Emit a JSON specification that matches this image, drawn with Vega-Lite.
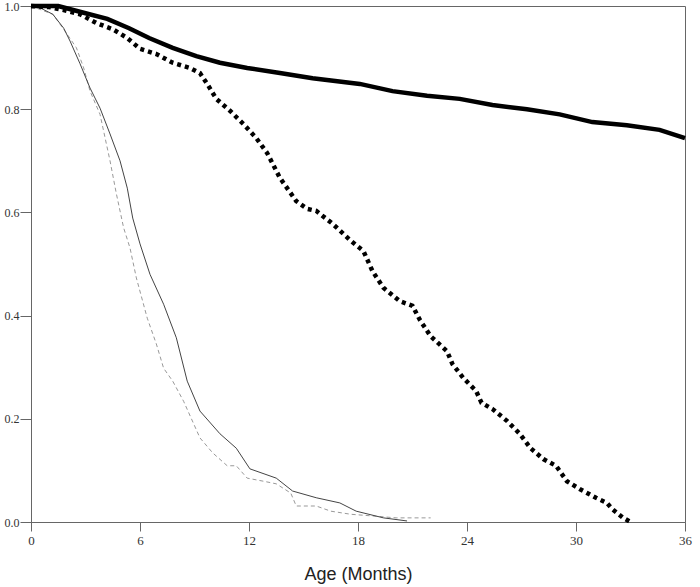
{
  "$schema": "https://vega.github.io/schema/vega-lite/v6.json",
  "width": 654,
  "height": 516,
  "autosize": "none",
  "padding": {"top": 6, "left": 31, "right": 15, "bottom": 65},
  "background": "white",
  "config": {
    "view": {"stroke": "#666", "strokeWidth": 1},
    "axis": {
      "grid": false,
      "domainColor": "#666",
      "tickColor": "#666",
      "labelFont": "Liberation Serif",
      "labelFontSize": 13,
      "labelColor": "#333",
      "labelFlush": false,
      "labelOverlap": false
    }
  },
  "data": {
    "values": [
      {"g": "C", "t": 0, "s": 1.0},
      {"g": "C", "t": 0.3, "s": 1.0},
      {"g": "C", "t": 1.2, "s": 0.984},
      {"g": "C", "t": 1.8, "s": 0.957},
      {"g": "C", "t": 2.15, "s": 0.932},
      {"g": "C", "t": 2.7, "s": 0.888},
      {"g": "C", "t": 3.25, "s": 0.841},
      {"g": "C", "t": 3.8, "s": 0.802},
      {"g": "C", "t": 4.35, "s": 0.752},
      {"g": "C", "t": 4.9, "s": 0.7},
      {"g": "C", "t": 5.3, "s": 0.647},
      {"g": "C", "t": 5.6, "s": 0.589},
      {"g": "C", "t": 6.0, "s": 0.539},
      {"g": "C", "t": 6.55, "s": 0.48},
      {"g": "C", "t": 7.3, "s": 0.422},
      {"g": "C", "t": 8.0, "s": 0.357},
      {"g": "C", "t": 8.6, "s": 0.273},
      {"g": "C", "t": 9.3, "s": 0.215},
      {"g": "C", "t": 10.4, "s": 0.171},
      {"g": "C", "t": 11.3, "s": 0.143},
      {"g": "C", "t": 12.05, "s": 0.103},
      {"g": "C", "t": 13.5, "s": 0.085},
      {"g": "C", "t": 14.4, "s": 0.06},
      {"g": "C", "t": 15.7, "s": 0.047},
      {"g": "C", "t": 17.0, "s": 0.037},
      {"g": "C", "t": 17.9, "s": 0.021},
      {"g": "C", "t": 19.4, "s": 0.008},
      {"g": "C", "t": 20.7, "s": 0.002},
      {"g": "D", "t": 0, "s": 1.0},
      {"g": "D", "t": 1.2, "s": 0.984},
      {"g": "D", "t": 1.8, "s": 0.955},
      {"g": "D", "t": 2.5, "s": 0.919},
      {"g": "D", "t": 2.9, "s": 0.88},
      {"g": "D", "t": 3.25, "s": 0.835},
      {"g": "D", "t": 3.8, "s": 0.79},
      {"g": "D", "t": 4.35, "s": 0.7},
      {"g": "D", "t": 4.7, "s": 0.636},
      {"g": "D", "t": 5.1, "s": 0.57},
      {"g": "D", "t": 5.45, "s": 0.531},
      {"g": "D", "t": 5.8, "s": 0.473},
      {"g": "D", "t": 6.4, "s": 0.395},
      {"g": "D", "t": 6.9, "s": 0.345},
      {"g": "D", "t": 7.3, "s": 0.298},
      {"g": "D", "t": 7.8, "s": 0.273},
      {"g": "D", "t": 8.4, "s": 0.234},
      {"g": "D", "t": 9.3, "s": 0.163},
      {"g": "D", "t": 10.0, "s": 0.134},
      {"g": "D", "t": 10.8, "s": 0.109},
      {"g": "D", "t": 11.3, "s": 0.109},
      {"g": "D", "t": 11.9, "s": 0.085},
      {"g": "D", "t": 12.8, "s": 0.079},
      {"g": "D", "t": 13.5, "s": 0.074},
      {"g": "D", "t": 14.3, "s": 0.056},
      {"g": "D", "t": 14.6, "s": 0.031},
      {"g": "D", "t": 15.7, "s": 0.031},
      {"g": "D", "t": 16.5, "s": 0.021},
      {"g": "D", "t": 17.6, "s": 0.015},
      {"g": "D", "t": 18.7, "s": 0.012},
      {"g": "D", "t": 20.1, "s": 0.008},
      {"g": "D", "t": 22.0, "s": 0.008},
      {"g": "B", "t": 0, "s": 1.0},
      {"g": "B", "t": 1.0, "s": 0.998},
      {"g": "B", "t": 1.8, "s": 0.992},
      {"g": "B", "t": 2.7, "s": 0.984},
      {"g": "B", "t": 3.6, "s": 0.967},
      {"g": "B", "t": 4.5, "s": 0.955},
      {"g": "B", "t": 5.3, "s": 0.938},
      {"g": "B", "t": 6.0, "s": 0.917},
      {"g": "B", "t": 6.9, "s": 0.907},
      {"g": "B", "t": 7.8, "s": 0.89},
      {"g": "B", "t": 8.75, "s": 0.88},
      {"g": "B", "t": 9.3, "s": 0.87},
      {"g": "B", "t": 9.7, "s": 0.849},
      {"g": "B", "t": 10.2, "s": 0.82},
      {"g": "B", "t": 10.95, "s": 0.797},
      {"g": "B", "t": 11.7, "s": 0.771},
      {"g": "B", "t": 12.4, "s": 0.744},
      {"g": "B", "t": 13.0, "s": 0.715},
      {"g": "B", "t": 13.7, "s": 0.667},
      {"g": "B", "t": 14.6, "s": 0.622},
      {"g": "B", "t": 15.2, "s": 0.607},
      {"g": "B", "t": 15.7, "s": 0.603},
      {"g": "B", "t": 16.6, "s": 0.578},
      {"g": "B", "t": 17.6, "s": 0.545},
      {"g": "B", "t": 18.3, "s": 0.525},
      {"g": "B", "t": 18.8, "s": 0.486},
      {"g": "B", "t": 19.4, "s": 0.454},
      {"g": "B", "t": 20.3, "s": 0.428},
      {"g": "B", "t": 21.0, "s": 0.419},
      {"g": "B", "t": 21.4, "s": 0.392},
      {"g": "B", "t": 22.0, "s": 0.36},
      {"g": "B", "t": 22.9, "s": 0.331},
      {"g": "B", "t": 23.2, "s": 0.306},
      {"g": "B", "t": 23.8, "s": 0.279},
      {"g": "B", "t": 24.5, "s": 0.254},
      {"g": "B", "t": 24.8, "s": 0.231},
      {"g": "B", "t": 25.4, "s": 0.219},
      {"g": "B", "t": 26.2, "s": 0.196},
      {"g": "B", "t": 26.9, "s": 0.171},
      {"g": "B", "t": 27.5, "s": 0.143},
      {"g": "B", "t": 28.2, "s": 0.122},
      {"g": "B", "t": 28.9, "s": 0.109},
      {"g": "B", "t": 29.5, "s": 0.079},
      {"g": "B", "t": 30.2, "s": 0.064},
      {"g": "B", "t": 31.1, "s": 0.047},
      {"g": "B", "t": 31.7, "s": 0.037},
      {"g": "B", "t": 32.0, "s": 0.025},
      {"g": "B", "t": 32.6, "s": 0.008},
      {"g": "B", "t": 33.0, "s": 0.0},
      {"g": "A", "t": 0, "s": 1.0},
      {"g": "A", "t": 1.5, "s": 1.0},
      {"g": "A", "t": 2.9, "s": 0.987},
      {"g": "A", "t": 4.2, "s": 0.975},
      {"g": "A", "t": 5.4, "s": 0.957},
      {"g": "A", "t": 6.5, "s": 0.938},
      {"g": "A", "t": 7.8, "s": 0.919},
      {"g": "A", "t": 9.1, "s": 0.903},
      {"g": "A", "t": 10.4, "s": 0.89},
      {"g": "A", "t": 11.9, "s": 0.88},
      {"g": "A", "t": 13.7, "s": 0.87},
      {"g": "A", "t": 15.5, "s": 0.86},
      {"g": "A", "t": 18.1, "s": 0.849},
      {"g": "A", "t": 19.9, "s": 0.835},
      {"g": "A", "t": 21.8, "s": 0.826},
      {"g": "A", "t": 23.6, "s": 0.82},
      {"g": "A", "t": 25.4, "s": 0.808},
      {"g": "A", "t": 27.3, "s": 0.8},
      {"g": "A", "t": 29.1, "s": 0.79},
      {"g": "A", "t": 30.9, "s": 0.775},
      {"g": "A", "t": 32.8, "s": 0.769},
      {"g": "A", "t": 34.6, "s": 0.76},
      {"g": "A", "t": 36.0, "s": 0.744}
    ]
  },
  "encoding": {
    "x": {
      "field": "t",
      "type": "quantitative",
      "scale": {"domain": [0, 36], "nice": false, "zero": false},
      "axis": {
        "title": "Age (Months)",
        "titleFont": "Liberation Sans",
        "titleFontSize": 18,
        "titleFontWeight": "normal",
        "titleColor": "#222",
        "titlePadding": 18,
        "values": [0, 6, 12, 18, 24, 30, 36],
        "tickSize": 9,
        "labelPadding": 3
      }
    },
    "y": {
      "field": "s",
      "type": "quantitative",
      "scale": {"domain": [0, 1], "nice": false},
      "axis": {
        "title": null,
        "values": [0, 0.2, 0.4, 0.6, 0.8, 1.0],
        "format": ".1f",
        "tickSize": 11,
        "labelPadding": 1,
        "labelFontSize": 12
      }
    },
    "order": {"field": "t", "type": "quantitative"}
  },
  "layer": [
    {
      "transform": [{"filter": "datum.g === 'D'"}],
      "mark": {"type": "line", "color": "#999999", "strokeWidth": 1, "strokeDash": [4, 3]}
    },
    {
      "transform": [{"filter": "datum.g === 'C'"}],
      "mark": {"type": "line", "color": "#444444", "strokeWidth": 1}
    },
    {
      "transform": [{"filter": "datum.g === 'B'"}],
      "mark": {"type": "line", "color": "#000000", "strokeWidth": 4.5, "strokeDash": [4, 4], "strokeCap": "butt"}
    },
    {
      "transform": [{"filter": "datum.g === 'A'"}],
      "mark": {"type": "line", "color": "#000000", "strokeWidth": 4.5}
    }
  ]
}
